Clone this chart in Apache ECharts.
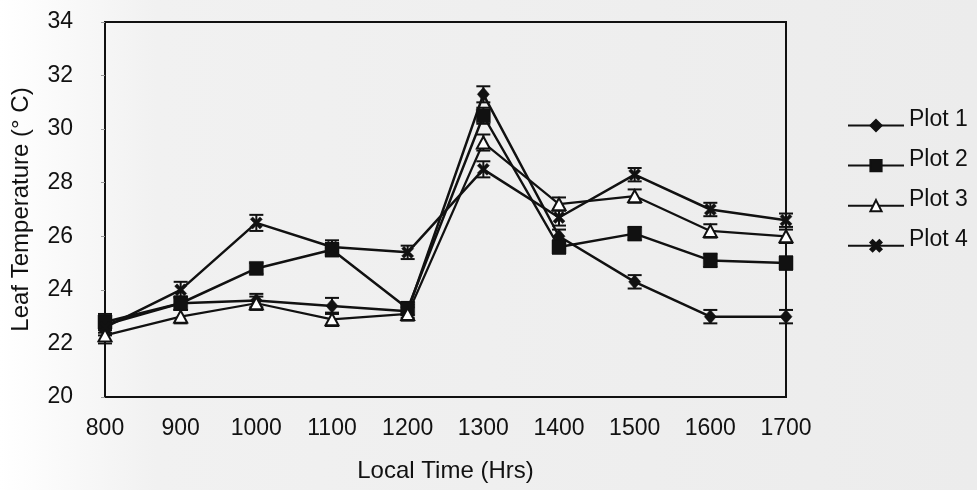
<!DOCTYPE html>
<html>
<head>
<meta charset="utf-8">
<script src="https://cdn.jsdelivr.net/npm/echarts@6/dist/echarts.min.js"></script>
<style>
  html, body { margin: 0; padding: 0; background: #fff; }
  #chart { width: 977px; height: 490px; }
</style>
</head>
<body>
<div id="chart"></div>
<script>
// Local time of each reading (hours)
const hours = [800, 900, 1000, 1100, 1200, 1300, 1400, 1500, 1600, 1700];

// Mean leaf temperature (°C) per plot
const plot1 = [22.7, 23.5, 23.6, 23.4, 23.2, 31.3, 26.0, 24.3, 23.0, 23.0];
const plot2 = [22.8, 23.5, 24.8, 25.5, 23.3, 30.5, 25.6, 26.1, 25.1, 25.0];
const plot3 = [22.3, 23.0, 23.5, 22.9, 23.1, 29.5, 27.2, 27.5, 26.2, 26.0];
const plot4 = [22.6, 24.0, 26.5, 25.6, 25.4, 28.5, 26.7, 28.3, 27.0, 26.6];

// Half-length of each error bar (°C)
const err1 = [0.3, 0.25, 0.25, 0.3, 0.25, 0.3, 0.25, 0.25, 0.25, 0.25];
const err2 = [0.3, 0.25, 0.2, 0.25, 0.25, 0.3, 0.25, 0.25, 0.25, 0.25];
const err3 = [0.3, 0.25, 0.25, 0.25, 0.25, 0.3, 0.25, 0.25, 0.25, 0.25];
const err4 = [0.3, 0.3, 0.3, 0.25, 0.25, 0.3, 0.3, 0.25, 0.25, 0.25];

const seriesNames = ['Plot 1', 'Plot 2', 'Plot 3', 'Plot 4'];

const INK = '#111111';
const FONT = 'Liberation Sans, Arial, sans-serif';
const CROSS = 'path://M2,0 L5,3 L8,0 L10,2 L7,5 L10,8 L8,10 L5,7 L2,10 L0,8 L3,5 L0,2 Z';

function pairs(values) {
  return hours.map((h, i) => [h, values[i]]);
}
function errTriples(values, errs) {
  return hours.map((h, i) => [h, values[i], errs[i]]);
}

// Vertical whisker with a short cap at each end
function renderErrorBar(params, api) {
  const x = api.value(0), y = api.value(1), e = api.value(2);
  const top = api.coord([x, y + e]);
  const bot = api.coord([x, y - e]);
  const hw = 7;
  const style = { stroke: INK, lineWidth: 2 };
  return {
    type: 'group',
    children: [
      { type: 'line', shape: { x1: top[0], y1: top[1], x2: bot[0], y2: bot[1] }, style },
      { type: 'line', shape: { x1: top[0] - hw, y1: top[1], x2: top[0] + hw, y2: top[1] }, style },
      { type: 'line', shape: { x1: bot[0] - hw, y1: bot[1], x2: bot[0] + hw, y2: bot[1] }, style }
    ]
  };
}

function lineSeries(name, values, symbol, size, fill, width) {
  return {
    name,
    type: 'line',
    data: pairs(values),
    symbol,
    symbolSize: size,
    showAllSymbol: true,
    lineStyle: { color: INK, width: width },
    itemStyle: { color: fill, borderColor: INK, borderWidth: fill === '#fff' ? 2 : 0.5 },
    z: 3
  };
}

function errorSeries(values, errs) {
  return {
    type: 'custom',
    renderItem: renderErrorBar,
    data: errTriples(values, errs),
    encode: { x: 0, y: 1 },
    silent: true,
    z: 2
  };
}

const chart = echarts.init(document.getElementById('chart'), null, { renderer: 'canvas' });

chart.setOption({
  animation: false,
  backgroundColor: {
    type: 'linear', x: 0, y: 0, x2: 1, y2: 0,
    colorStops: [
      { offset: 0, color: '#ffffff' },
      { offset: 0.16, color: '#f1f1f1' },
      { offset: 1, color: '#ececec' }
    ]
  },
  textStyle: { fontFamily: FONT, color: INK },
  grid: {
    left: 105, right: 191, top: 22, bottom: 93,
    show: true, borderColor: INK, borderWidth: 2, backgroundColor: 'transparent'
  },
  legend: {
    data: seriesNames,
    orient: 'vertical',
    left: 842,
    top: 103,
    itemWidth: 56,
    itemHeight: 14,
    itemGap: 16,
    formatter: '{t|{name}}',
    textStyle: {
      fontSize: 23, color: INK, fontFamily: FONT,
      rich: { t: { fontSize: 23, color: INK, fontFamily: FONT, padding: [0, 0, 12, 0] } }
    }
  },
  xAxis: {
    type: 'value',
    min: 800, max: 1700, interval: 100,
    name: 'Local Time (Hrs)',
    nameLocation: 'middle',
    nameGap: 62,
    nameTextStyle: { fontSize: 24, color: INK, fontFamily: FONT },
    axisLine: { show: true, lineStyle: { color: INK, width: 2 } },
    axisTick: { show: false },
    splitLine: { show: false },
    axisLabel: {
      fontSize: 23, color: INK, margin: 20, fontFamily: FONT,
      formatter: (v) => String(v)
    }
  },
  yAxis: {
    type: 'value',
    min: 20, max: 34, interval: 2,
    name: 'Leaf Temperature (° C)',
    nameLocation: 'middle',
    nameGap: 72,
    nameTextStyle: { fontSize: 24, color: INK, fontFamily: FONT },
    axisLine: { show: true, lineStyle: { color: INK, width: 2 } },
    axisTick: { show: true, inside: false, length: 4, lineStyle: { color: '#999', width: 1 } },
    splitLine: { show: false },
    axisLabel: { fontSize: 23, color: INK, margin: 32, fontFamily: FONT }
  },
  series: [
    errorSeries(plot1, err1),
    errorSeries(plot2, err2),
    errorSeries(plot3, err3),
    errorSeries(plot4, err4),
    lineSeries('Plot 1', plot1, 'diamond', [12, 14], INK, 2.5),
    lineSeries('Plot 2', plot2, 'rect', 14, INK, 2.5),
    lineSeries('Plot 3', plot3, 'triangle', [13, 12], '#fff', 2.2),
    lineSeries('Plot 4', plot4, CROSS, 12, INK, 2.5)
  ]
});
</script>
</body>
</html>
